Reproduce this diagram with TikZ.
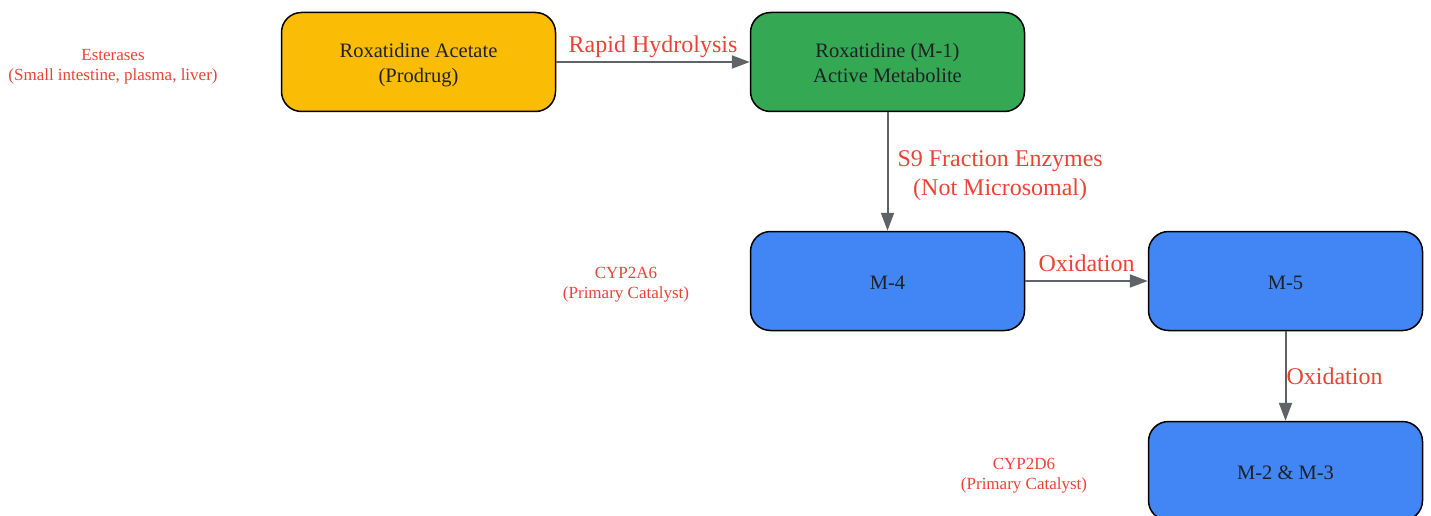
\documentclass[tikz,border=0pt]{standalone}
\usepackage{fontspec}
\setmainfont{Liberation Serif}
\usetikzlibrary{arrows.meta}
\definecolor{gyellow}{HTML}{FBBC05}
\definecolor{ggreen}{HTML}{34A853}
\definecolor{gblue}{HTML}{4285F4}
\definecolor{gred}{HTML}{EA4335}
\definecolor{ggray}{HTML}{5F6368}
\definecolor{gtext}{HTML}{202124}
\newcommand{\lowtxt}[1]{\raisebox{-3pt}[\height][\depth]{\begin{tabular}{@{}c@{}}#1\end{tabular}}}
\begin{document}
\begin{tikzpicture}[x=1pt,y=-1pt,
  box/.style={draw=black, line width=1.5pt, rounded corners=20pt, minimum width=274pt, minimum height=99pt, align=center, text=gtext, font=\fontsize{20.5}{25}\selectfont, inner sep=0pt},
  conn/.style={draw=ggray, line width=2pt, -{Triangle[length=18pt,width=13pt]}},
  elabel/.style={text=gred, font=\fontsize{24}{29}\selectfont, align=center, inner sep=2pt},
  note/.style={text=gred, font=\fontsize{17}{20}\selectfont, align=center, inner sep=0pt}]
\useasboundingbox (0,0) rectangle (1431,516);
\node[box, fill=gyellow] (pro) at (418.5,62) {\lowtxt{Roxatidine Acetate\\(Prodrug)}};
\node[box, fill=ggreen] (m1) at (887.5,62) {\lowtxt{Roxatidine (M-1)\\Active Metabolite}};
\node[box, fill=gblue] (m4) at (887.5,281) {\lowtxt{M-4}};
\node[box, fill=gblue] (m5) at (1285.5,281) {\lowtxt{M-5}};
\node[box, fill=gblue] (m23) at (1285.5,471) {\lowtxt{M-2 \& M-3}};
\draw[conn] (pro) -- node[elabel, above=1pt] {Rapid Hydrolysis} (m1);
\draw[conn] (m1) -- node[elabel, right=7pt, yshift=-4pt] {S9 Fraction Enzymes\\(Not Microsomal)} (m4);
\draw[conn] (m4) -- node[elabel, above=6pt] {Oxidation} (m5);
\draw[conn] (m5) -- node[elabel, right=-2pt] {Oxidation} (m23);
\node[note] (est) at (113,66.5) {Esterases\\(Small intestine, plasma, liver)};
\node[note] (c2a6) at (626,284.5) {CYP2A6\\(Primary Catalyst)};
\node[note] (c2d6) at (1024,475.5) {CYP2D6\\(Primary Catalyst)};
\end{tikzpicture}
\end{document}
